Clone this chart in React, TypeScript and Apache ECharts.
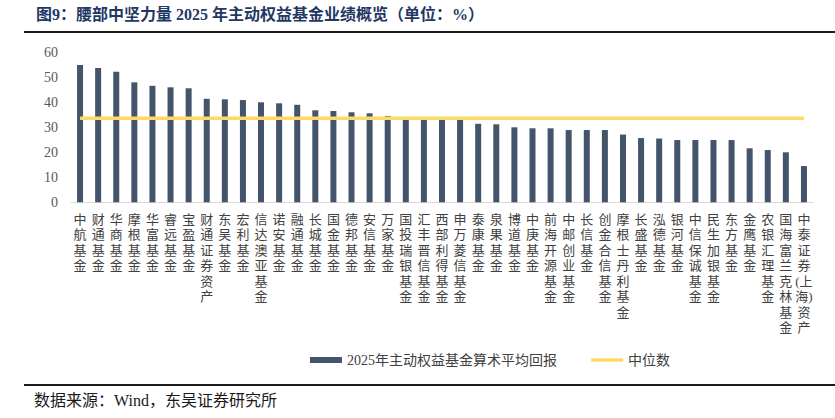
import React, { useEffect, useRef } from "react";
import * as echarts from "echarts";

const categories = [
  "中航基金", "财通基金", "华商基金", "摩根基金", "华富基金", "睿远基金", "宝盈基金",
  "财通证券资产", "东吴基金", "宏利基金", "信达澳亚基金", "诺安基金", "融通基金", "长城基金",
  "国金基金", "德邦基金", "安信基金", "万家基金", "国投瑞银基金", "汇丰晋信基金", "西部利得基金",
  "申万菱信基金", "泰康基金", "泉果基金", "博道基金", "中庚基金", "前海开源基金", "中邮创业基金",
  "长信基金", "创金合信基金", "摩根士丹利基金", "长盛基金", "泓德基金", "银河基金", "中信保诚基金",
  "民生加银基金", "东方基金", "金鹰基金", "农银汇理基金", "国海富兰克林基金", "中泰证券(上海)资产",
];

const avgReturns = [
  54.9, 53.7, 52.2, 48.0, 46.6, 46.0, 45.6, 41.4, 41.2, 40.9, 40.0, 39.6, 39.0, 36.8,
  36.5, 36.0, 35.6, 34.5, 33.9, 33.8, 33.6, 33.4, 31.4, 31.2, 30.0, 29.6, 29.6, 28.9,
  28.9, 28.9, 27.1, 25.7, 25.5, 24.9, 24.9, 24.9, 24.9, 21.6, 20.9, 20.0, 14.5,
];

const MEDIAN = 33.6;
const medianLine = categories.map(() => MEDIAN);

const seriesNames = ["2025年主动权益基金算术平均回报", "中位数"];
const titleText = "图9：腰部中坚力量 2025 年主动权益基金业绩概览（单位：%）";
const sourceText = "数据来源：Wind，东吴证券研究所";

const SERIF = '"Liberation Serif", "Times New Roman", "Noto Sans CJK SC", serif';

function verticalLabel(s: string): string {
  const out: string[] = [];
  const chars = Array.from(s);
  for (let i = 0; i < chars.length; i++) {
    const c = chars[i];
    if (c === "(" && i + 1 < chars.length) {
      out.push(c + chars[i + 1]);
      i++;
    } else if (c === ")" && out.length) {
      out[out.length - 1] += c;
    } else {
      out.push(c);
    }
  }
  return out.join("\n");
}

export default function App() {
  const ref = useRef<HTMLDivElement>(null);

  useEffect(() => {
    if (!ref.current) return;
    const chart = echarts.init(ref.current, undefined, { renderer: "svg" });
    const legendText = { fontFamily: SERIF, fontSize: 14, color: "#404040" };
    chart.setOption({
      animation: false,
      backgroundColor: "#ffffff",
      grid: { left: 71, right: 22, top: 52.3, bottom: 215.7, containLabel: false },
      legend: [
        {
          left: 310,
          top: 353,
          padding: 0,
          itemWidth: 32,
          itemHeight: 6,
          textStyle: legendText,
          data: [{ name: seriesNames[0], icon: "rect" }],
        },
        {
          left: 591,
          top: 353,
          padding: 0,
          itemWidth: 32,
          itemHeight: 3.5,
          textStyle: legendText,
          data: [{ name: seriesNames[1], icon: "rect" }],
        },
      ],
      xAxis: {
        type: "category",
        data: categories,
        boundaryGap: true,
        axisLine: { show: true, lineStyle: { color: "#D9D9D9", width: 1 } },
        axisTick: { show: false },
        axisLabel: {
          interval: 0,
          margin: 9,
          fontFamily: SERIF,
          fontSize: 13,
          lineHeight: 15.5,
          color: "#404040",
          verticalAlign: "top",
          formatter: (v: string) => verticalLabel(v),
        },
      },
      yAxis: {
        type: "value",
        min: 0,
        max: 60,
        interval: 10,
        axisLine: { show: false },
        axisTick: { show: false },
        splitLine: { show: false },
        axisLabel: { fontFamily: SERIF, fontSize: 14, color: "#595959", margin: 13 },
      },
      series: [
        {
          name: seriesNames[0],
          type: "bar",
          data: avgReturns,
          barWidth: 6,
          itemStyle: { color: "#44546A" },
          z: 2,
        },
        {
          name: seriesNames[1],
          type: "line",
          data: medianLine,
          symbol: "none",
          showSymbol: false,
          lineStyle: { color: "#FFD966", width: 3.5 },
          itemStyle: { color: "#FFD966" },
          z: 3,
        },
      ],
      graphic: [
        {
          type: "text",
          left: 36,
          top: 6,
          style: {
            text: titleText,
            fill: "#1F3864",
            font: `bold 16px ${SERIF}`,
          },
        },
        {
          type: "line",
          shape: { x1: 24, y1: 32, x2: 835, y2: 32 },
          style: { stroke: "#1a1a1a", lineWidth: 2 },
        },
        {
          type: "line",
          shape: { x1: 24, y1: 385, x2: 835, y2: 385 },
          style: { stroke: "#1a1a1a", lineWidth: 2 },
        },
        {
          type: "text",
          left: 34,
          top: 392,
          style: {
            text: sourceText,
            fill: "#1a1a1a",
            font: `16px ${SERIF}`,
          },
        },
      ],
    });
    return () => chart.dispose();
  }, []);

  return (
    <div
      ref={ref}
      style={{ position: "absolute", left: 0, top: 0, width: 835, height: 418 }}
    />
  );
}
